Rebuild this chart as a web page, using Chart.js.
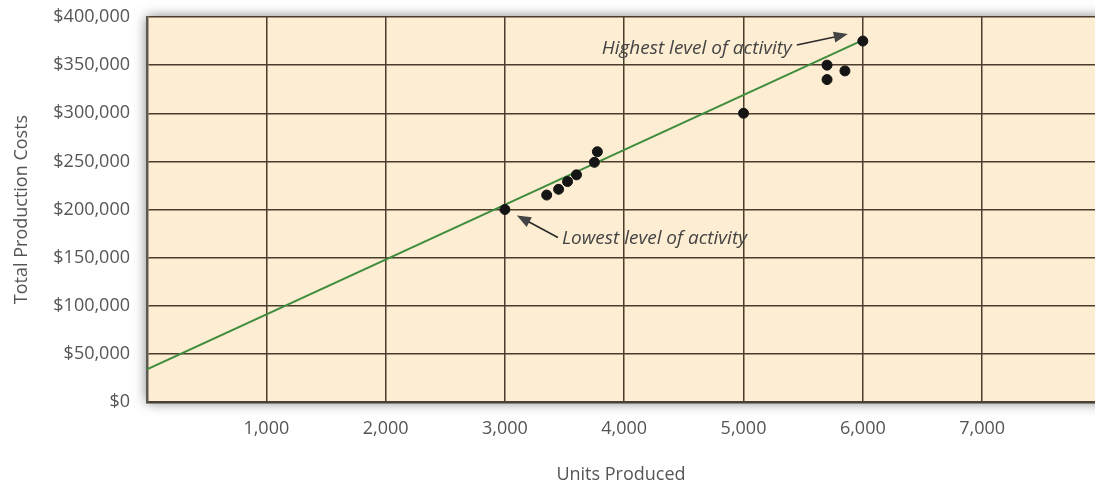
<!DOCTYPE html>
<html>
<head>
<meta charset="utf-8">
<script src="https://cdn.jsdelivr.net/npm/chart.js@4.4.0/dist/chart.umd.min.js"></script>
<style>
    html, body { margin: 0; padding: 0; background: #fff; overflow: hidden; }
    #wrap { width: 1095px; height: 488px; }
</style>
</head>
<body>
<div id="wrap"><canvas id="costChart" width="1095" height="488"></canvas></div>
<script>
// monthly observations (units, total cost)
const unitsProduced = [3000, 3350, 3450, 3525, 3600, 3750, 3775, 5000, 5700, 5700, 5850, 6000];
const totalCosts = [200000, 215000, 221000, 229000, 236000, 249000, 260000, 300000, 350000, 335000, 344000, 375000];

// fitted cost line
const trendUnits = [0, 6000];
const trendCosts = [34000, 376000];

// axis ticks
const xTickValues = [0, 1000, 2000, 3000, 4000, 5000, 6000, 7000];
const yTickValues = [0, 50000, 100000, 150000, 200000, 250000, 300000, 350000, 400000];

// callouts pointing at a data point (index into the arrays above)
const callouts = [
    { text: "Highest level of activity", index: 11 },
    { text: "Lowest level of activity", index: 0 }
];

const textGray = "#555555";
const gridBrown = "#4a3d2c";

// plot background with soft shadow
const plotBackground = {
    id: "plotBackground",
    beforeDraw(chart) {
        const { ctx, chartArea: a } = chart;
        ctx.save();
        ctx.shadowColor = "rgba(0,0,0,0.55)";
        ctx.shadowBlur = 12;
        ctx.fillStyle = "#fcedd3";
        ctx.fillRect(a.left, a.top, chart.width - a.left + 20, a.bottom - a.top);
        ctx.restore();
    }
};

function drawArrow(ctx, x1, y1, x2, y2) {
    const ang = Math.atan2(y2 - y1, x2 - x1);
    const len = 14, half = 5.5;
    ctx.beginPath();
    ctx.moveTo(x1, y1);
    ctx.lineTo(x2 - Math.cos(ang) * len * 0.8, y2 - Math.sin(ang) * len * 0.8);
    ctx.stroke();
    ctx.beginPath();
    ctx.moveTo(x2, y2);
    ctx.lineTo(x2 - Math.cos(ang) * len - Math.sin(ang) * half, y2 - Math.sin(ang) * len + Math.cos(ang) * half);
    ctx.lineTo(x2 - Math.cos(ang) * len + Math.sin(ang) * half, y2 - Math.sin(ang) * len - Math.cos(ang) * half);
    ctx.closePath();
    ctx.fill();
}

const calloutPlugin = {
    id: "callouts",
    afterDatasetsDraw(chart) {
        const { ctx, scales } = chart;
        ctx.save();
        ctx.font = "italic 19px 'Open Sans'";
        ctx.fillStyle = "#444444";
        ctx.strokeStyle = "#2a2a2a";
        ctx.lineWidth = 1.6;
        ctx.textBaseline = "middle";
        callouts.forEach(c => {
            const px = scales.x.getPixelForValue(unitsProduced[c.index]);
            const py = scales.y.getPixelForValue(totalCosts[c.index]);
            if (c.index === 11) {
                ctx.textAlign = "right";
                ctx.fillText(c.text, px - 71, py + 8);
                drawArrow(ctx, px - 66, py + 4, px - 15, py - 7);
            } else {
                ctx.textAlign = "left";
                ctx.fillText(c.text, px + 57, py + 29);
                drawArrow(ctx, px + 53, py + 28, px + 12, py + 6);
            }
        });
        ctx.restore();
    }
};

const ctx = document.getElementById("costChart").getContext("2d");
new Chart(ctx, {
    type: "scatter",
    data: {
        datasets: [
            {
                label: "Total Production Costs",
                data: unitsProduced.map((u, i) => ({ x: u, y: totalCosts[i] })),
                backgroundColor: "#151515",
                borderColor: "#151515",
                pointRadius: 5,
                pointHoverRadius: 5
            },
            {
                type: "line",
                label: "Cost line",
                data: trendUnits.map((u, i) => ({ x: u, y: trendCosts[i] })),
                borderColor: "#3f8c3c",
                borderWidth: 2,
                pointRadius: 0,
                fill: false
            }
        ]
    },
    options: {
        responsive: false,
        animation: false,
        layout: { autoPadding: false, padding: { top: 17, right: 0, left: 0, bottom: 0 } },
        plugins: {
            legend: { display: false },
            tooltip: { enabled: false }
        },
        scales: {
            x: {
                type: "linear",
                min: 0,
                max: 7946,
                afterFit: s => {
                    s.height = 86;
                    s.paddingLeft = 0;
                    s.paddingRight = 0;
                },
                afterBuildTicks: s => { s.ticks = xTickValues.map(v => ({ value: v })); },
                grid: { color: gridBrown, lineWidth: 1.5, drawTicks: false },
                border: { color: "#4b4033", width: 2.5 },
                ticks: {
                    padding: 16,
                    color: textGray,
                    font: { family: "'Open Sans'", size: 18 },
                    callback: v => v === 0 ? "" : v.toLocaleString("en-US")
                },
                title: {
                    display: true,
                    text: "Units Produced",
                    color: textGray,
                    font: { family: "'Open Sans'", size: 18 },
                    padding: { top: 0, bottom: 2 }
                }
            },
            y: {
                type: "linear",
                min: 0,
                max: 400000,
                afterFit: s => {
                    s.width = 147;
                    s.paddingTop = 0;
                    s.paddingBottom = 0;
                },
                afterBuildTicks: s => { s.ticks = yTickValues.map(v => ({ value: v })); },
                grid: { color: gridBrown, lineWidth: 1.5, drawTicks: false },
                border: { color: "#5c5852", width: 2.5 },
                ticks: {
                    padding: 17,
                    color: textGray,
                    font: { family: "'Open Sans'", size: 18 },
                    callback: v => "$" + v.toLocaleString("en-US")
                },
                title: {
                    display: true,
                    text: "Total Production Costs",
                    color: textGray,
                    font: { family: "'Open Sans'", size: 18 },
                    padding: { top: 11, bottom: 0 }
                }
            }
        }
    },
    plugins: [plotBackground, calloutPlugin]
});
</script>
</body>
</html>
